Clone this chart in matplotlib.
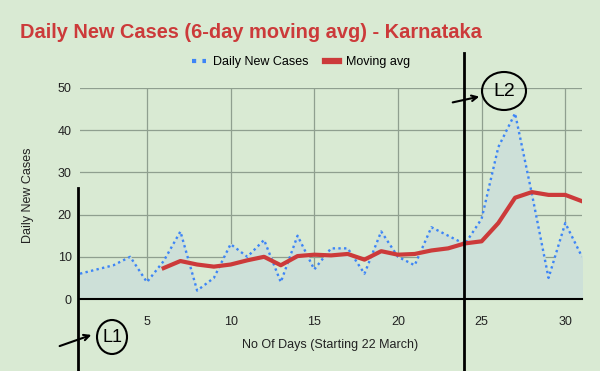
import matplotlib.pyplot as plt
from matplotlib.lines import Line2D
from matplotlib.patches import Ellipse

plt.rcParams['font.family'] = ['Liberation Sans', 'DejaVu Sans']

# data
days = list(range(1, 32))
daily_cases = [6, 7, 8, 10, 4, 9, 16, 2, 5, 13, 10, 14, 4, 15, 7, 12,
               12, 6, 16, 10, 8, 17, 15, 13, 19, 36, 44, 25, 5, 18, 10]
avg_days = list(range(6, 32))
moving_avg = [7.33, 9.0, 8.17, 7.67, 8.17, 9.17, 10.0, 8.0, 10.17, 10.5,
              10.33, 10.67, 9.33, 11.33, 10.5, 10.67, 11.5, 12.0, 13.17,
              13.67, 18.0, 24.0, 25.33, 24.67, 24.67, 23.17]
x_ticks = [5, 10, 15, 20, 25, 30]
y_ticks = [0, 10, 20, 30, 40, 50]

bg = '#d9ead3'
red = '#cc3a3a'
blue = '#3d85f6'

fig = plt.figure(figsize=(6, 3.71), dpi=100, facecolor=bg)
ax = fig.add_axes([80 / 600, 72 / 371, 502 / 600, 211 / 371])
ax.set_facecolor(bg)

ax.fill_between(days, daily_cases, 0, color='#cde0d8', zorder=1)
ax.plot(days, daily_cases, color=blue, linestyle=(0, (1, 1.4)), linewidth=1.7, zorder=3)
ax.plot(avg_days, moving_avg, color=red, linewidth=3, zorder=4)

ax.set_xlim(1, 31)
ax.set_ylim(0, 50)
ax.set_xticks(x_ticks)
ax.set_yticks(y_ticks)
ax.grid(True, color='#8f9f8f', linewidth=0.9, zorder=0)
ax.set_axisbelow(True)
for s in ['top', 'right', 'left']:
    ax.spines[s].set_visible(False)
ax.spines['bottom'].set_color('black')
ax.spines['bottom'].set_linewidth(1.5)
ax.tick_params(length=0, labelsize=9, colors='#222222', pad=6)
ax.tick_params(axis='x', pad=12)

fig.text(20 / 600, 1 - 32 / 371, 'Daily New Cases (6-day moving avg) - Karnataka',
         color=red, fontsize=14.4, fontweight='bold', va='center', ha='left')
fig.text(28 / 600, 1 - 195 / 371, 'Daily New Cases', rotation=90, fontsize=9,
         va='center', ha='center', color='#222222')
fig.text(330 / 600, 1 - 345 / 371, 'No Of Days (Starting 22 March)', fontsize=9,
         va='center', ha='center', color='#222222')

handles = [Line2D([], [], color=blue, linestyle=(0, (1, 1.5)), linewidth=3),
           Line2D([], [], color=red, linewidth=4.5)]
fig.legend(handles, ['Daily New Cases', 'Moving avg'], loc='center',
           bbox_to_anchor=(301 / 600, 1 - 62 / 371), ncol=2, frameon=False,
           fontsize=9, handlelength=1.1, columnspacing=1.3, handletextpad=0.6)

# hand-drawn marks
def fy(py):
    return 1 - py / 371

fig.add_artist(Line2D([78 / 600, 78 / 600], [fy(188), 0], color='black', linewidth=2))
fig.add_artist(Line2D([464 / 600, 464 / 600], [fy(53), 0], color='black', linewidth=2))
fig.add_artist(Ellipse((112 / 600, fy(337)), 30 / 600, 34 / 371, fill=False,
                       edgecolor='black', linewidth=1.5))
fig.text(112 / 600, fy(337), 'L1', fontsize=13, ha='center', va='center')
fig.add_artist(Ellipse((504 / 600, fy(91)), 44 / 600, 38 / 371, fill=False,
                       edgecolor='black', linewidth=1.5))
fig.text(504 / 600, fy(92), 'L2', fontsize=14, ha='center', va='center')
fig.add_artist(plt.Annotation('', xy=(94 / 600, fy(334)), xytext=(57 / 600, fy(347)),
                              xycoords='figure fraction',
                              arrowprops=dict(arrowstyle='->', color='black', lw=1.5)))
fig.add_artist(plt.Annotation('', xy=(482 / 600, fy(96)), xytext=(450 / 600, fy(103)),
                              xycoords='figure fraction',
                              arrowprops=dict(arrowstyle='->', color='black', lw=1.5)))

fig.savefig('out.png', dpi=100, facecolor=bg)
